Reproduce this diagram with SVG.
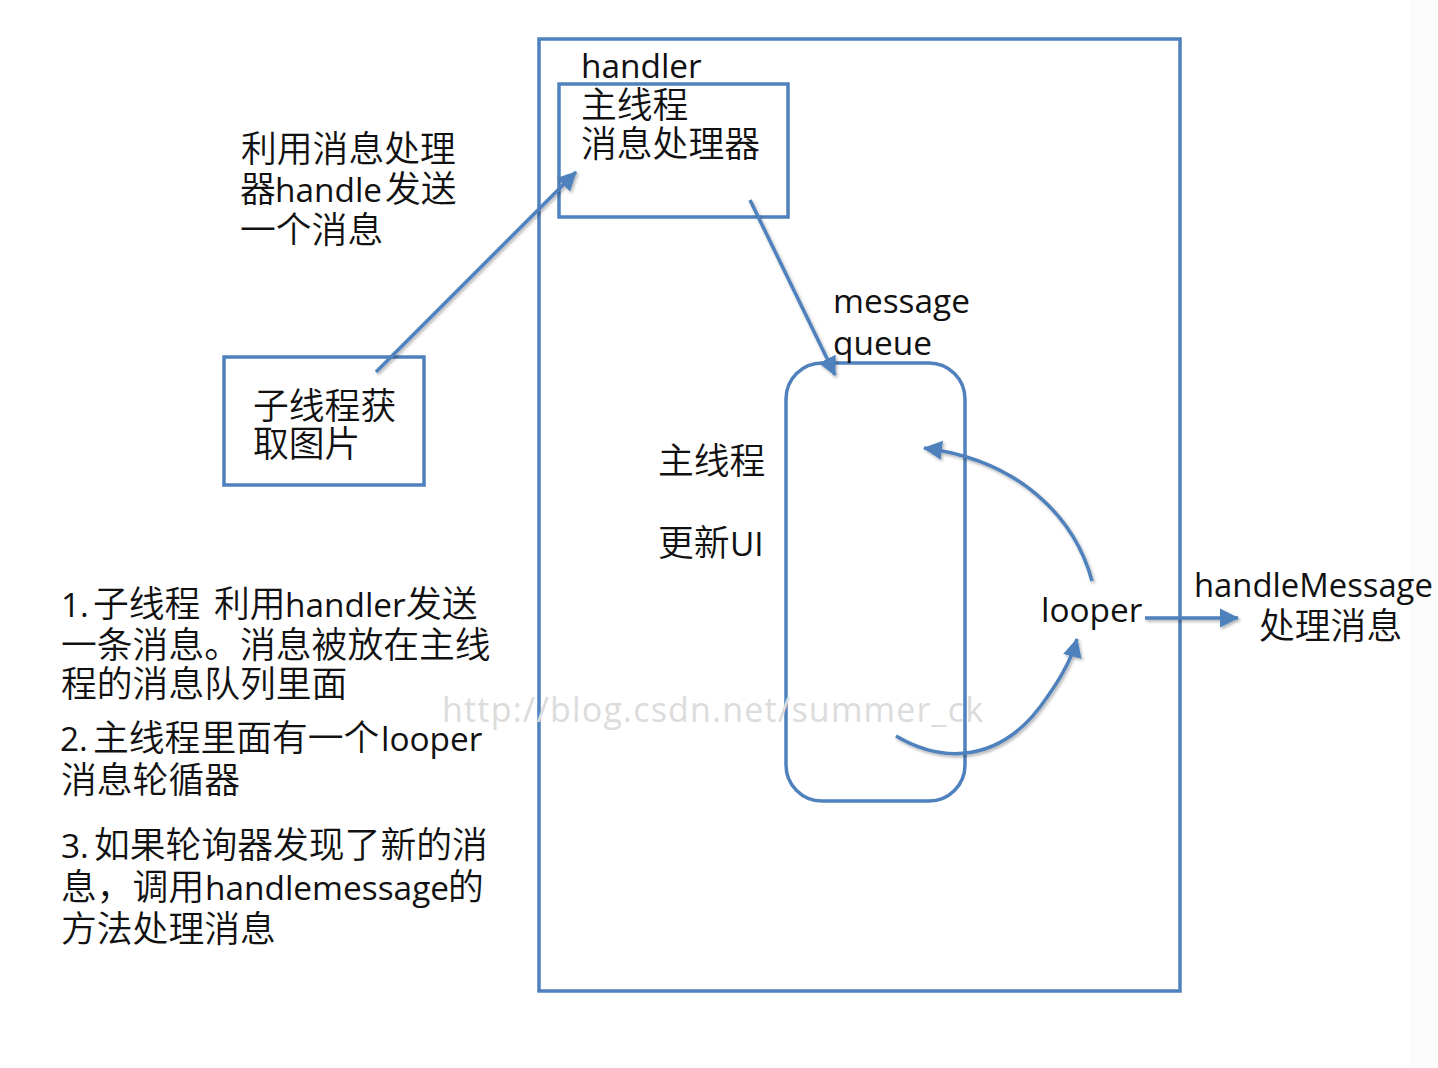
<svg xmlns="http://www.w3.org/2000/svg" width="1438" height="1068" viewBox="0 0 1438 1068">
<style>
text{font-family:"Noto Sans CJK SC","Open Sans",sans-serif;font-size:35.8px;font-weight:350;fill:#111}
.l{font-family:"Open Sans","Noto Sans CJK SC",sans-serif;font-size:33.4px;font-weight:400}
.w{font-family:"Open Sans",sans-serif;font-size:34px;font-weight:400;fill:#dcdcdc}
.b{fill:none;stroke:#4f81bd;stroke-width:3.5}
.c{fill:none;stroke:#4f81bd;stroke-width:3.5;marker-end:url(#a);filter:url(#s)}
</style>
<defs><marker id="a" markerUnits="userSpaceOnUse" markerWidth="20" markerHeight="20" refX="18" refY="10" orient="auto"><path d="M0 0.5L19 10L0 19.5Z" fill="#4f81bd"/></marker>
<filter id="s" filterUnits="userSpaceOnUse" x="0" y="0" width="1438" height="1068"><feDropShadow dx="1.5" dy="2" stdDeviation="1.8" flood-color="#000" flood-opacity=".3"/></filter></defs>
<rect width="1438" height="1068" fill="#fff"/>
<rect x="1410" width="28" height="1068" fill="#fcfcfc"/>
<g id="outer"><rect class="b" x="539" y="39" width="641" height="952"/></g>
<g id="handler"><rect class="b" x="559" y="84" width="229" height="133"/>
<text class="l" x="581" y="78">handler</text><text x="581" y="118">主线程</text><text x="581" y="157">消息处理器</text></g>
<g id="worker"><rect class="b" x="224" y="357" width="200" height="128"/><text x="253" y="419">子线程获</text><text x="253" y="457">取图片</text></g>
<g id="queue"><rect class="b" x="786" y="363" width="179" height="438" rx="36"/><text class="l" x="833" y="313">message</text><text class="l" x="833" y="355">queue</text></g>
<g id="labels">
<text x="241" y="162">利用消息处理</text>
<text x="240" y="202">器<tspan class="l" x="275">handle</tspan><tspan x="385">发送</tspan></text>
<text x="240" y="243">一个消息</text>
<text x="658" y="474">主线程</text>
<text x="658" y="556">更新<tspan class="l" x="730">UI</tspan></text>
<text class="l" x="1041" y="622">looper</text>
<text class="l" x="1194" y="597" style="font-size:32.8px">handleMessage</text>
<text x="1259" y="639">处理消息</text>
<text x="61" y="617"><tspan class="l">1.</tspan><tspan x="93">子线程</tspan><tspan x="214">利用</tspan><tspan class="l" x="285">handler</tspan><tspan x="406">发送</tspan></text>
<text x="61" y="658">一条消息。消息被放在主线</text>
<text x="61" y="697">程的消息队列里面</text>
<text x="60" y="751"><tspan class="l">2.</tspan><tspan x="93">主线程里面有一个</tspan><tspan class="l" x="381">looper</tspan></text>
<text x="61" y="793">消息轮循器</text>
<text x="61" y="858"><tspan class="l">3.</tspan><tspan x="94">如果轮询器发现了新的消</tspan></text>
<text x="61" y="900">息，调用<tspan class="l" x="205">handlemessage</tspan><tspan x="448">的</tspan></text>
<text x="61" y="942">方法处理消息</text>
<text class="w" x="442" y="722" textLength="541">http://blog.csdn.net/summer_ck</text>
</g>
<g id="connectors">
<path class="c" d="M376 372L576 172"/>
<path class="c" d="M750 200L835 375"/>
<path class="c" d="M1092 581C1075 518 1020 460 924 448"/>
<path class="c" d="M896 736C945 765 1000 760 1040 707C1054 688 1070 665 1077 639"/>
<path class="c" d="M1145 618H1238"/>
</g>
</svg>
